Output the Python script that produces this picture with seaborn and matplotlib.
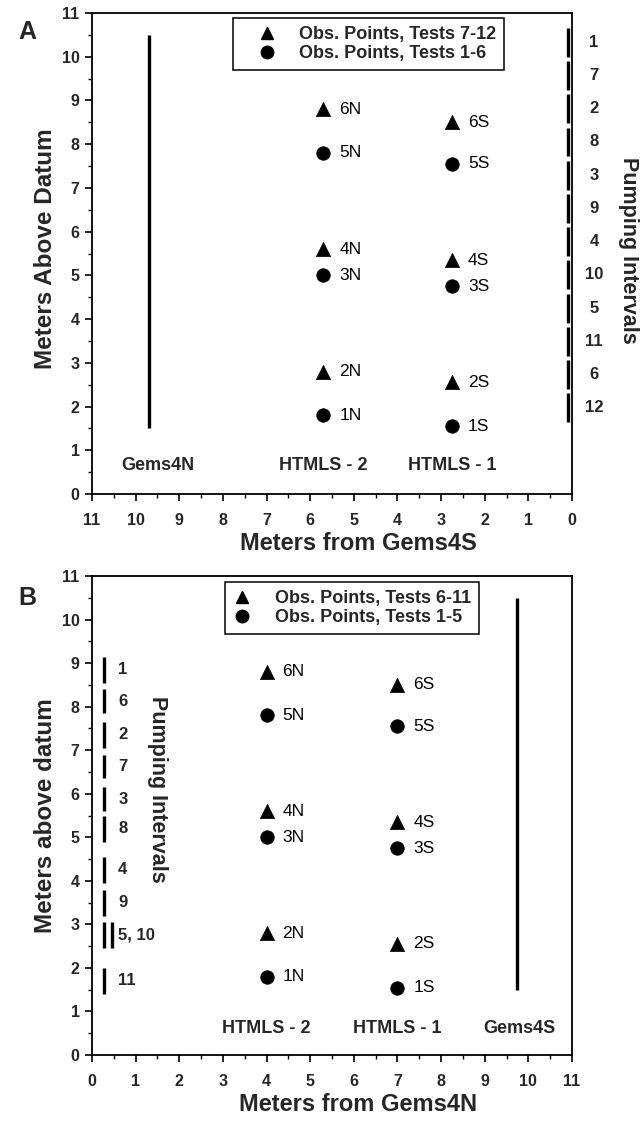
import matplotlib
matplotlib.use("Agg")
import matplotlib.pyplot as plt
import matplotlib.transforms as mtransforms
from matplotlib.lines import Line2D
from matplotlib.ticker import MultipleLocator
import pandas as pd
import seaborn as sns

# ---- observation point elevations (m above datum) ----
north_labels = ["6N", "5N", "4N", "3N", "2N", "1N"]
north_y = [8.8, 7.8, 5.6, 5.0, 2.8, 1.8]
south_labels = ["6S", "5S", "4S", "3S", "2S", "1S"]
south_y = [8.5, 7.55, 5.35, 4.75, 2.55, 1.55]
point_kind = ["tri", "circ", "tri", "circ", "tri", "circ"]

# ---- well positions along each section (m) ----
a_htmls2_x = 5.7
a_htmls1_x = 2.75
a_gems_x = 9.7
b_htmls2_x = 4.0
b_htmls1_x = 7.0
b_gems_x = 9.75
gems_screen = (1.5, 10.5)

# ---- pumping intervals, panel A (Gems4N) ----
a_int_names = ["1", "7", "2", "8", "3", "9", "4", "10", "5", "11", "6", "12"]
a_int_top = [10.66, 9.90, 9.14, 8.38, 7.62, 6.86, 6.10, 5.34, 4.58, 3.82, 3.06, 2.30]
a_int_bot = [10.00, 9.24, 8.48, 7.72, 6.96, 6.20, 5.44, 4.68, 3.92, 3.16, 2.40, 1.64]

# ---- pumping intervals, panel B (Gems4S) ----
b_int_names = ["1", "6", "2", "7", "3", "8", "4", "9", "5, 10", "11"]
b_int_top = [9.15, 8.40, 7.65, 6.90, 6.15, 5.50, 4.55, 3.80, 3.05, 2.00]
b_int_bot = [8.55, 7.85, 7.05, 6.35, 5.60, 4.90, 3.95, 3.20, 2.45, 1.40]
b_double = "5, 10"

sns.set_theme(style="ticks")
plt.rcParams["font.family"] = ["Liberation Sans", "DejaVu Sans"]
plt.rcParams["axes.linewidth"] = 1.2

fig = plt.figure(figsize=(6.44, 11.23), dpi=100)
ax_a = fig.add_axes([92 / 644, 1 - 494 / 1123, 480 / 644, 481 / 1123])
ax_b = fig.add_axes([92 / 644, 1 - 1055 / 1123, 480 / 644, 479 / 1123])

markers = {"tri": "^", "circ": "o"}


def points_frame(x2, x1):
    return pd.DataFrame({
        "x": [x2] * 6 + [x1] * 6,
        "y": north_y + south_y,
        "kind": point_kind + point_kind,
        "label": north_labels + south_labels,
    })


def draw_points(ax, df):
    for kind, size in (("tri", 105), ("circ", 95)):
        sub = df[df["kind"] == kind]
        sns.scatterplot(data=sub, x="x", y="y", marker=markers[kind], s=size,
                        color="black", edgecolor="black", linewidth=0.5,
                        legend=False, ax=ax, zorder=3)
    for _, row in df.iterrows():
        ax.annotate(row["label"], (row["x"], row["y"]), xytext=(11.5, 0),
                    textcoords="offset points", va="center", ha="left",
                    fontsize=12.5, color="black")


def style_axes(ax):
    ax.set_xlim(0, 11)
    ax.set_ylim(0, 11)
    ax.xaxis.set_major_locator(MultipleLocator(1))
    ax.yaxis.set_major_locator(MultipleLocator(1))
    ax.xaxis.set_minor_locator(MultipleLocator(0.5))
    ax.yaxis.set_minor_locator(MultipleLocator(0.5))
    ax.tick_params(which="major", direction="out", length=5, width=1.2,
                   labelsize=11.5, color="black")
    ax.tick_params(which="minor", direction="out", length=3, width=1.0,
                   color="black")
    ax.tick_params(axis="x", which="major", pad=9)
    ax.tick_params(axis="y", which="major", pad=4)
    for lab in ax.get_xticklabels() + ax.get_yticklabels():
        lab.set_fontweight("bold")
    for sp in ax.spines.values():
        sp.set_color("black")
        sp.set_linewidth(1.3)
    ax.set_facecolor("white")


def add_legend(ax, labels, anchor, handlelength, handletextpad):
    handles = [
        Line2D([], [], linestyle="none", marker="^", color="black", markersize=8.5),
        Line2D([], [], linestyle="none", marker="o", color="black", markersize=9),
    ]
    leg = ax.legend(handles, labels, loc="upper left", bbox_to_anchor=anchor,
                    frameon=True, fancybox=False, framealpha=1,
                    edgecolor="black", borderpad=0.45, labelspacing=0.12,
                    handletextpad=handletextpad, handlelength=handlelength,
                    borderaxespad=0,
                    prop={"weight": "bold", "size": 13})
    leg.get_frame().set_linewidth(1.1)


bold13 = {"fontsize": 13, "fontweight": "bold", "ha": "center", "va": "center"}
axis_label = {"fontsize": 17, "fontweight": "bold"}
yaxis_label = {"fontsize": 17.5, "fontweight": "bold"}

# ---------------- Panel A ----------------
ax = ax_a
draw_points(ax, points_frame(a_htmls2_x, a_htmls1_x))
ax.vlines(a_gems_x, *gems_screen, color="black", lw=2.4)
ax.vlines([0.1] * len(a_int_top), a_int_bot, a_int_top, color="black", lw=2.4)
style_axes(ax)
ax.set_xlim(11, 0)
trans = mtransforms.blended_transform_factory(ax.transAxes, ax.transData)
for name, t, b in zip(a_int_names, a_int_top, a_int_bot):
    ax.text(1.046, (t + b) / 2, name, transform=trans, ha="center",
            va="center", fontsize=12, fontweight="bold", clip_on=False)
ax.text(1.117, 0.507, "Pumping Intervals", transform=ax.transAxes,
        rotation=-90, ha="center", va="center", fontsize=15.5,
        fontweight="bold")
ax.text(9.5, 0.65, "Gems4N", **bold13)
ax.text(a_htmls2_x, 0.65, "HTMLS - 2", **bold13)
ax.text(a_htmls1_x, 0.65, "HTMLS - 1", **bold13)
add_legend(ax, ["Obs. Points, Tests 7-12", "Obs. Points, Tests 1-6"],
           (0.294, 0.99), handlelength=2.9, handletextpad=0.3)
ax.set_xlabel("Meters from Gems4S", **axis_label)
ax.set_ylabel("Meters Above Datum", **yaxis_label)
ax.xaxis.set_label_coords(0.555, -0.079)
ax.yaxis.set_label_coords(-0.072, 0.51)

# ---------------- Panel B ----------------
ax = ax_b
draw_points(ax, points_frame(b_htmls2_x, b_htmls1_x))
ax.vlines(b_gems_x, *gems_screen, color="black", lw=2.4)
ax.vlines([0.27] * len(b_int_top), b_int_bot, b_int_top, color="black", lw=2.4)
for name, t, b in zip(b_int_names, b_int_top, b_int_bot):
    if name == b_double:
        ax.vlines(0.45, b, t, color="black", lw=2.4)
    ax.text(0.6, (t + b) / 2, name, ha="left", va="center", fontsize=12,
            fontweight="bold")
ax.text(1.5, 6.1, "Pumping Intervals", rotation=-90, ha="center",
        va="center", fontsize=15.5, fontweight="bold")
style_axes(ax)
ax.text(b_htmls2_x, 0.62, "HTMLS - 2", **bold13)
ax.text(b_htmls1_x, 0.62, "HTMLS - 1", **bold13)
ax.text(9.8, 0.62, "Gems4S", **bold13)
add_legend(ax, ["Obs. Points, Tests 6-11", "Obs. Points, Tests 1-5"],
           (0.277, 0.9875), handlelength=1.0, handletextpad=1.3)
ax.set_xlabel("Meters from Gems4N", **axis_label)
ax.set_ylabel("Meters above datum", **yaxis_label)
ax.xaxis.set_label_coords(0.555, -0.079)
ax.yaxis.set_label_coords(-0.072, 0.5)

fig.text(18 / 644, 1 - 32 / 1123, "A", fontsize=18, fontweight="bold",
         ha="left", va="center")
fig.text(18 / 644, 1 - 598 / 1123, "B", fontsize=18, fontweight="bold",
         ha="left", va="center")

fig.savefig("out.png", dpi=100, facecolor="white")
